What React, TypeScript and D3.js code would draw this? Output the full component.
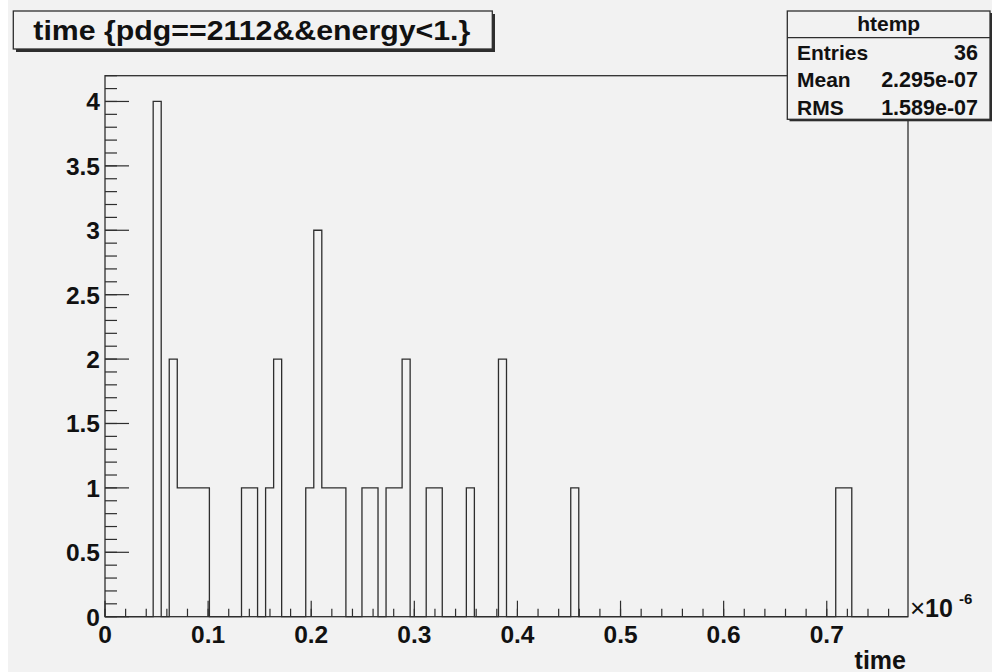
import React from "react";
import * as d3 from "d3";

// ---- data (x in units of 1e-6) ----
const nBins = 100;
const xMin = 0;
const xMax = 0.7788;
const yMax = 4.2;
const filledBins = [6, 8, 9, 10, 11, 12, 17, 18, 20, 21, 25, 26, 27, 28, 29, 32, 33, 35, 36, 37, 40, 41, 45, 49, 58, 91, 92];
const binCounts = [4, 2, 1, 1, 1, 1, 1, 1, 1, 2, 1, 3, 1, 1, 1, 1, 1, 1, 1, 2, 1, 1, 1, 2, 1, 1, 1];
const xTickLabels = ["0", "0.1", "0.2", "0.3", "0.4", "0.5", "0.6", "0.7"];
const yTickLabels = ["0", "0.5", "1", "1.5", "2", "2.5", "3", "3.5", "4"];
const titleText = "time {pdg==2112&&energy<1.}";
const statLabels = ["Entries", "Mean", "RMS"];
const statValues = ["36", "2.295e-07", "1.589e-07"];
const histName = "htemp";
const xAxisTitle = "time";

const FONT = "'Liberation Sans', Arial, Helvetica, sans-serif";
const LINE = "#2e2e2e";
const BG = "#f2f2f2";

export default function App() {
  const frame = { l: 105, r: 908, t: 75.7, b: 616.7 };
  const x = d3.scaleLinear().domain([xMin, xMax]).range([frame.l, frame.r]);
  const y = d3.scaleLinear().domain([0, yMax]).range([frame.b, frame.t]);

  const counts = new Array(nBins).fill(0);
  filledBins.forEach((b, i) => (counts[b] = binCounts[i]));
  const bw = (xMax - xMin) / nBins;

  let d = `M${x(xMin)},${y(0)}`;
  counts.forEach((c, i) => {
    d += `V${y(c)}H${x(xMin + (i + 1) * bw)}`;
  });
  d += `V${y(0)}`;

  const xMajor = xTickLabels.map((t) => +t);
  const xMinor = d3.range(0, 39).map((i) => i * 0.02).filter((v) => v <= xMax);
  const yMajor = yTickLabels.map((t) => +t);
  const yMinor = d3.range(0, 43).map((i) => i * 0.1).filter((v) => v <= yMax + 1e-9);

  return (
    <svg width={992} height={672} style={{ position: "absolute", left: 0, top: 0, display: "block" }}
      fontFamily={FONT} fontWeight="bold">
      <rect x={0} y={0} width={992} height={672} fill="#ffffff" />
      <rect x={8} y={0} width={984} height={672} fill={BG} />

      {/* frame */}
      <rect x={frame.l} y={frame.t} width={frame.r - frame.l} height={frame.b - frame.t}
        fill="none" stroke={LINE} strokeWidth={1.3} />

      {/* histogram */}
      <path d={d} fill="none" stroke={LINE} strokeWidth={1.3} />

      {/* x ticks */}
      {xMinor.map((v, i) => (
        <line key={"xm" + i} x1={x(v)} x2={x(v)} y1={frame.b} y2={frame.b - 8} stroke={LINE} strokeWidth={1.2} />
      ))}
      {xMajor.map((v, i) => (
        <line key={"xM" + i} x1={x(v)} x2={x(v)} y1={frame.b} y2={frame.b - 16} stroke={LINE} strokeWidth={1.2} />
      ))}
      {/* y ticks */}
      {yMinor.map((v, i) => (
        <line key={"ym" + i} x1={frame.l} x2={frame.l + 12} y1={y(v)} y2={y(v)} stroke={LINE} strokeWidth={1.2} />
      ))}
      {yMajor.map((v, i) => (
        <line key={"yM" + i} x1={frame.l} x2={frame.l + 24} y1={y(v)} y2={y(v)} stroke={LINE} strokeWidth={1.2} />
      ))}

      {/* labels */}
      {xTickLabels.map((t, i) => (
        <text key={"xl" + i} x={x(xMajor[i])} y={642.5} fontSize={24.5} textAnchor="middle" fill="#111">{t}</text>
      ))}
      {yTickLabels.map((t, i) => (
        <text key={"yl" + i} x={100} y={y(yMajor[i]) + 9} fontSize={24.5} textAnchor="end" fill="#111">{t}</text>
      ))}
      <text x={910} y={617} fontSize={26} fontWeight="normal" fill="#111">×</text>
      <text x={925} y={617} fontSize={25} fill="#111">10</text>
      <text x={959} y={603.5} fontSize={15} fill="#111">-6</text>
      <text x={906} y={668.5} fontSize={25} textAnchor="end" fill="#111">{xAxisTitle}</text>

      {/* title box */}
      <rect x={16} y={14} width={479} height={38} fill={LINE} />
      <rect x={13.3} y={11} width={479} height={38} fill={BG} stroke={LINE} strokeWidth={1.3} />
      <text x={33.3} y={39.5} fontSize={27} textLength={437} lengthAdjust="spacingAndGlyphs" fill="#111">{titleText}</text>

      {/* stats box */}
      <rect x={789.5} y={13} width={202.7} height={108.3} fill={LINE} />
      <rect x={787.3} y={11} width={202.7} height={108.3} fill={BG} stroke={LINE} strokeWidth={1.3} />
      <line x1={787.3} x2={990} y1={37.7} y2={37.7} stroke={LINE} strokeWidth={1.3} />
      <text x={888.7} y={31} fontSize={21} textAnchor="middle" fill="#111">{histName}</text>
      {statLabels.map((s, i) => (
        <text key={"sl" + i} x={797} y={59.8 + i * 27.4} fontSize={21} fill="#111">{s}</text>
      ))}
      {statValues.map((s, i) => (
        <text key={"sv" + i} x={978} y={59.8 + i * 27.4} fontSize={21.5} textAnchor="end" fill="#111">{s}</text>
      ))}
    </svg>
  );
}
